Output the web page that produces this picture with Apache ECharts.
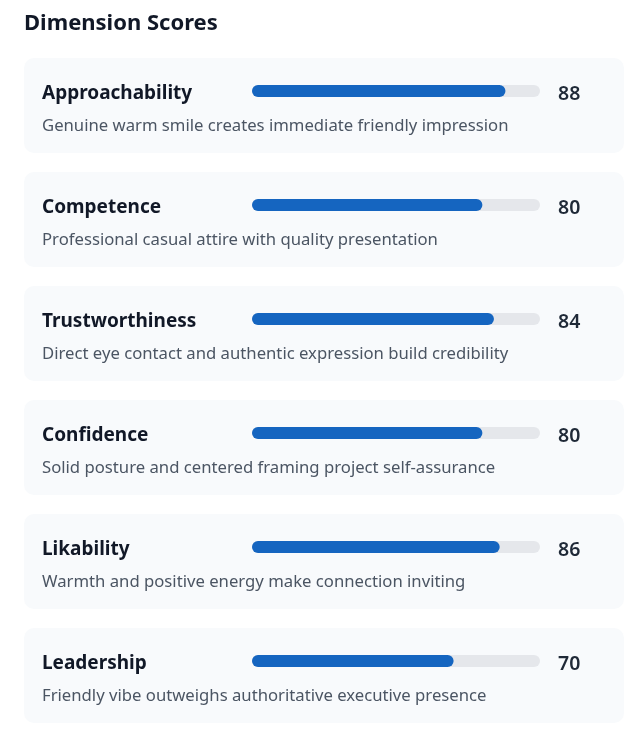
<!DOCTYPE html>
<html>
<head>
<meta charset="utf-8">
<script src="https://cdn.jsdelivr.net/npm/echarts@6/dist/echarts.min.js"></script>
<style>
html,body{margin:0;padding:0;background:#ffffff;}
#chart{width:642px;height:740px;}
</style>
</head>
<body>
<div id="chart"></div>
<script>
const categories = ["Approachability","Competence","Trustworthiness","Confidence","Likability","Leadership"];
const scores = [88, 80, 84, 80, 86, 70];
const descriptions = [
  "Genuine warm smile creates immediate friendly impression",
  "Professional casual attire with quality presentation",
  "Direct eye contact and authentic expression build credibility",
  "Solid posture and centered framing project self-assurance",
  "Warmth and positive energy make connection inviting",
  "Friendly vibe outweighs authoritative executive presence"
];

const FONT = '"Noto Sans", "Open Sans", sans-serif';
const chart = echarts.init(document.getElementById('chart'), null, {renderer:'canvas'});

const option = {
  animation: false,
  backgroundColor: '#ffffff',
  title: {
    text: 'Dimension Scores',
    left: 24,
    top: 13,
    padding: 0,
    textStyle: {fontFamily: FONT, fontSize: 22, fontWeight: 'bold', color: '#111827'}
  },
  grid: {left: 252, width: 288, top: 34, height: 684},
  xAxis: {type: 'value', min: 0, max: 100, show: false},
  yAxis: {type: 'category', data: categories, inverse: true, show: false},
  series: [
    {
      type: 'custom',
      z: 1,
      silent: true,
      data: categories.map((c, i) => [scores[i], i]),
      renderItem: function (params, api) {
        const i = api.value(1);
        const yc = api.coord([0, i])[1];
        return {
          type: 'group',
          children: [
            {type: 'rect', shape: {x: 24, y: yc - 33, width: 600, height: 95, r: 10},
             style: {fill: '#f8fafc'}},
            {type: 'text', style: {x: 42, y: yc + 3, text: categories[i], fill: '#111827',
              font: 'bold 19px ' + FONT, verticalAlign: 'middle', textAlign: 'left'}},
            {type: 'text', style: {x: 558, y: yc + 3, text: String(api.value(0)), fill: '#1f2937',
              font: '600 19.5px ' + FONT, verticalAlign: 'middle', textAlign: 'left'}},
            {type: 'text', style: {x: 42, y: yc + 35, text: descriptions[i], fill: '#4b5563',
              font: '16.7px ' + FONT, verticalAlign: 'middle', textAlign: 'left'}}
          ]
        };
      }
    },
    {
      type: 'bar',
      z: 2,
      data: scores,
      barWidth: 12,
      showBackground: true,
      backgroundStyle: {color: '#e5e7eb', borderRadius: 6},
      itemStyle: {color: '#1565c0', borderRadius: 6}
    }
  ]
};
chart.setOption(option);
</script>
</body>
</html>
